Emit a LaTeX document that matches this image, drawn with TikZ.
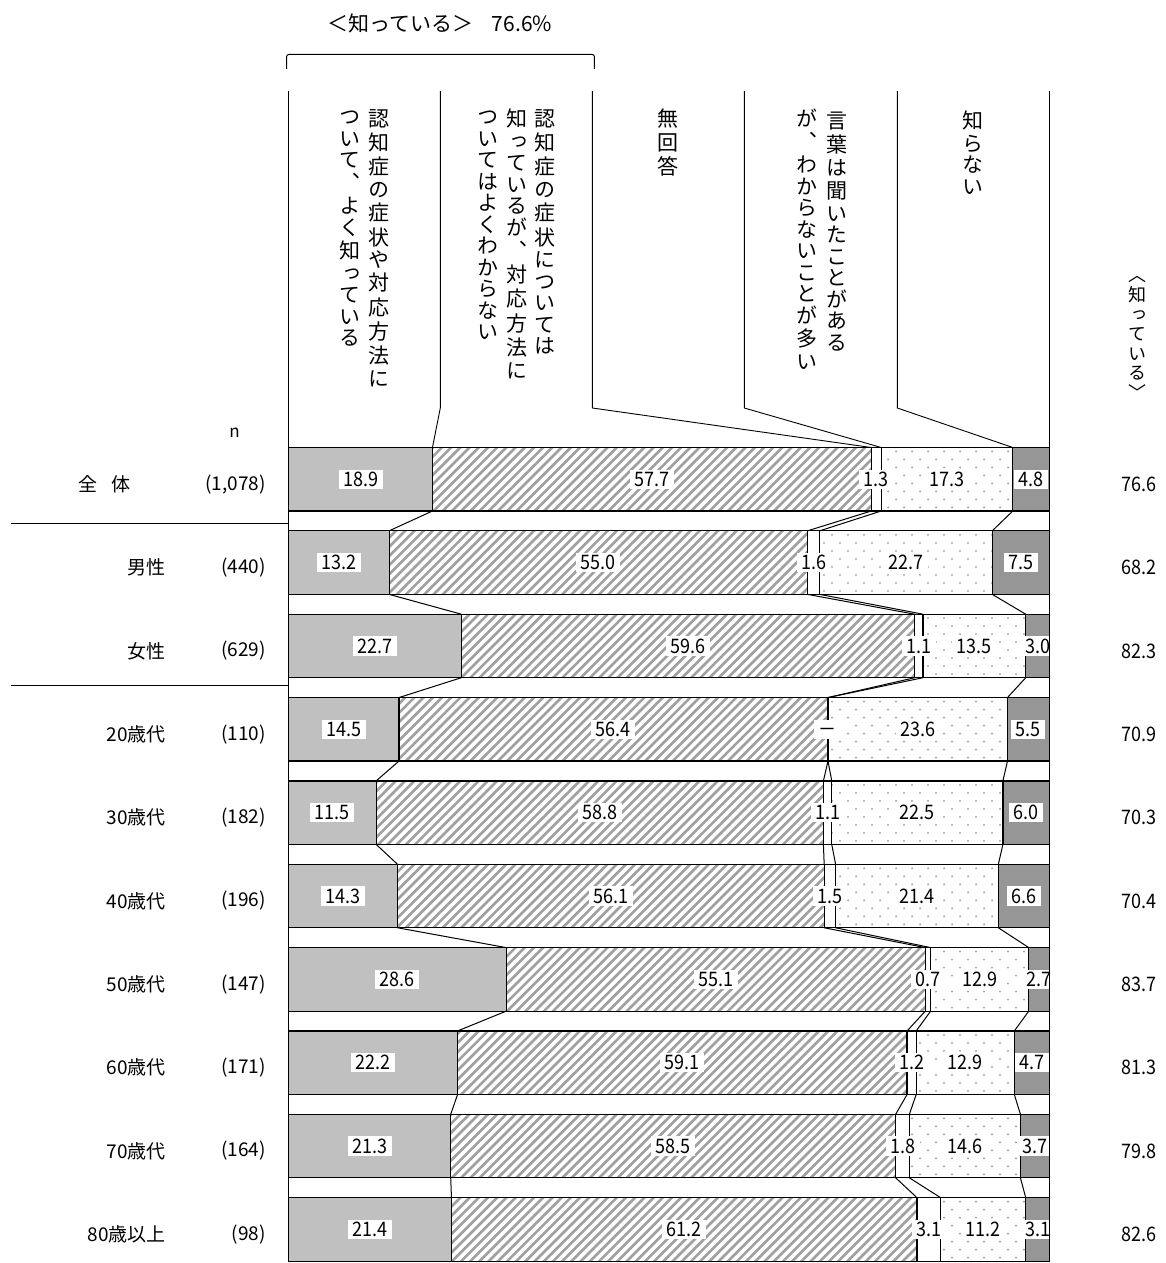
\documentclass[tikz,border=0pt]{standalone}
\usepackage{fontspec}
\setmainfont{Noto Sans CJK JP}
\newfontfamily\vjp[RawFeature={+vert}]{Noto Sans CJK JP}
\newfontfamily\numf[FakeStretch=0.9]{Noto Sans CJK JP}
\newlength\vkp \newlength\vhp \newlength\vcw
\makeatletter
\def\vloop#1{\ifx#1\relax\else\vcell{#1}\expandafter\vloop\fi}
\def\vcell#1{%
  \ifnum`#1>"303F \ifnum`#1<"3100 \dimen@=\vhp\else\dimen@=\vkp\fi\else\dimen@=\vkp\fi
  \vbox to \dimen@{\vss\hbox to \vcw{\hss\raisebox{0pt}[0.88\vcw][0.12\vcw]{#1}\hss}\vss}}
\newcommand\vtext[1]{\vbox{\offinterlineskip\vloop#1\relax}}
\makeatother
\definecolor{cA}{RGB}{192,192,192}
\definecolor{cE}{RGB}{150,150,150}
\definecolor{hatchc}{RGB}{160,160,160}
\definecolor{dotc}{RGB}{150,150,150}
\begin{document}
\begin{tikzpicture}[x=1pt,y=-1pt,
  vhead/.style={inner sep=0pt, anchor=north, font=\vjp\fontsize{21pt}{23pt}\selectfont\setlength\vcw{21pt}\setlength\vkp{24.3pt}\setlength\vhp{21.5pt}},
  vright/.style={inner sep=0pt, anchor=north, font=\vjp\fontsize{18pt}{20pt}\selectfont\setlength\vcw{18pt}\setlength\vkp{19.6pt}\setlength\vhp{19.6pt}},
  lab/.style={fill=white, inner xsep=4.5pt, inner ysep=2.5pt, text height=14.5pt, text depth=0pt, font=\numf\fontsize{20pt}{22pt}\selectfont},
  rowlab/.style={inner sep=0pt, anchor=east, font=\fontsize{19pt}{21pt}\selectfont},
  totlab/.style={inner sep=0pt, font=\numf\fontsize{20pt}{22pt}\selectfont},
  segline/.style={draw=black, line width=1.2pt},
  hatchline/.style={draw=hatchc, line width=2.6pt},
  conn/.style={draw=black, line width=1pt},
  hline/.style={draw=black, line width=0.9pt},
  frameline/.style={draw=black, line width=1.5pt},
  divline/.style={draw=black, line width=1.3pt}]
\useasboundingbox (0,0) rectangle (1166,1263);

% title and bracket
\node[inner sep=0pt, font=\fontsize{21pt}{23pt}\selectfont] (title) at (440,23) {＜知っている＞\hspace{18pt}76.6\%};
\coordinate (brA) at (286.7,69);
\coordinate (brB) at (286.7,54.5);
\coordinate (brC) at (594.3,54.5);
\coordinate (brD) at (594.3,69);
\draw[line width=1pt, rounded corners=2pt] (brA) -- (brB) -- (brC) -- (brD);

% bars
\foreach \va/\vb/\vc/\vd/\ve/\cl [count=\i from 0] in {
18.9/57.7/1.3/17.3/4.8/1.3,
13.2/55.0/1.6/22.7/7.5/1.6,
22.7/59.6/1.1/13.5/3.0/1.1,
14.5/56.4/0/23.6/5.5/－,
11.5/58.8/1.1/22.5/6.0/1.1,
14.3/56.1/1.5/21.4/6.6/1.5,
28.6/55.1/0.7/12.9/2.7/0.7,
22.2/59.1/1.2/12.9/4.7/1.2,
21.3/58.5/1.8/14.6/3.7/1.8,
21.4/61.2/3.1/11.2/3.1/3.1}{
  \pgfmathsetmacro\T{447.5+83.35*\i}
  \pgfmathsetmacro\B{\T+63.5}
  \pgfmathsetmacro\Y{\T+31.75}
  \pgfmathsetmacro\xb{288.7+7.606*\va}
  \pgfmathsetmacro\xc{288.7+7.606*(\va+\vb)}
  \pgfmathsetmacro\xd{288.7+7.606*(\va+\vb+\vc)}
  \pgfmathsetmacro\xe{288.7+7.606*(\va+\vb+\vc+\vd)}
  \coordinate (t\i-0) at (288.7,\T);  \coordinate (b\i-0) at (288.7,\B);
  \coordinate (t\i-1) at (\xb,\T);    \coordinate (b\i-1) at (\xb,\B);
  \coordinate (t\i-2) at (\xc,\T);    \coordinate (b\i-2) at (\xc,\B);
  \coordinate (t\i-3) at (\xd,\T);    \coordinate (b\i-3) at (\xd,\B);
  \coordinate (t\i-4) at (\xe,\T);    \coordinate (b\i-4) at (\xe,\B);
  \coordinate (t\i-5) at (1049.3,\T); \coordinate (b\i-5) at (1049.3,\B);
  \fill[cA] (t\i-0) rectangle (b\i-1);
  \begin{scope}
    \clip (t\i-1) rectangle (b\i-2);
    \foreach \u in {220,229.2,...,1000}{\draw[hatchline] (\u,\B+2) -- ++(68,-68);}
  \end{scope}
  \begin{scope}
    \clip (t\i-3) rectangle (b\i-4);
    \foreach \u in {800,816,...,1040}{
      \foreach \w in {4,20,36,52}{
        \fill[dotc] (\u,\T+\w) circle (1pt);
        \fill[dotc] (\u+8,\T+\w+8) circle (1pt);
      }}
  \end{scope}
  \fill[cE] (t\i-4) rectangle (b\i-5);
  \foreach \k [evaluate=\k as \kk using int(\k+1)] in {0,...,4}{
    \draw[segline] (t\i-\k) rectangle (b\i-\kk);
  }
  \node[lab] (l\i-1) at ({(288.7+\xb)/2},\Y) {\va};
  \node[lab] (l\i-2) at ({(\xb+\xc)/2},\Y) {\vb};
  \node[lab] (l\i-3) at ({(\xc+\xd)/2},\Y) {\cl};
  \node[lab] (l\i-4) at ({(\xd+\xe)/2},\Y) {\vd};
  \node[lab] (l\i-5) at ({(\xe+1049.3)/2},\Y) {\ve};
}

% connectors between rows
\foreach \i in {0,...,8}{
  \pgfmathtruncatemacro\j{\i+1}
  \foreach \k in {1,...,4}{\draw[conn] (b\i-\k) -- (t\j-\k);}
}

% header lines
\coordinate (ht0) at (288.7,91);   \coordinate (hb0) at (288.7,408);
\coordinate (ht1) at (440.3,91);   \coordinate (hb1) at (440.3,408);
\coordinate (ht2) at (592.3,91);   \coordinate (hb2) at (592.3,408);
\coordinate (ht3) at (744.3,91);   \coordinate (hb3) at (744.3,408);
\coordinate (ht4) at (897.3,91);   \coordinate (hb4) at (897.3,408);
\coordinate (ht5) at (1049.3,91);  \coordinate (hb5) at (1049.3,408);
\draw[hline] (ht0) -- (hb0);
\draw[hline] (ht5) -- (hb5);
\foreach \k in {1,...,4}{\draw[hline] (ht\k) -- (hb\k) -- (t0-\k);}
\draw[frameline] (hb0) -- (b9-0);
\draw[frameline] (hb5) -- (b9-5);

% header texts
\node[vhead] (h1a) at (379.2,106) {\vtext{認知症の症状や対応方法に}};
\node[vhead] (h1b) at (350,106) {\vtext{ついて、よく知っている}};
\node[vhead] (h2a) at (545,106) {\vtext{認知症の症状については}};
\node[vhead] (h2b) at (516.7,106) {\vtext{知っているが、対応方法に}};
\node[vhead] (h2c) at (488.3,106) {\vtext{ついてはよくわからない}};
\node[vhead] (h3a) at (668,106) {\vtext{無回答}};
\node[vhead] (h4a) at (836.7,108) {\vtext{言葉は聞いたことがある}};
\node[vhead] (h4b) at (806.7,108) {\vtext{が、わからないことが多い}};
\node[vhead] (h5a) at (973,108) {\vtext{知らない}};
\node[vright] (hr) at (1137,265) {\vtext{〈知っている〉}};

% n label
\node[inner sep=0pt, font=\fontsize{17pt}{19pt}\selectfont] (nlab) at (234.5,433) {n};

% row labels
\foreach \lab/\lx/\nn/\tot [count=\i from 0] in {
全\hspace{14pt}体/131/{(1,078)}/76.6,
男性/166/(440)/68.2,
女性/166/(629)/82.3,
20歳代/166/(110)/70.9,
30歳代/166/(182)/70.3,
40歳代/166/(196)/70.4,
50歳代/166/(147)/83.7,
60歳代/166/(171)/81.3,
70歳代/166/(164)/79.8,
80歳以上/166/(98)/82.6}{
  \pgfmathsetmacro\Y{447.5+83.35*\i+31.75+5}
  \node[rowlab] (r\i) at (\lx,\Y) {\lab};
  \node[rowlab] (n\i) at (266,\Y) {\nn};
  \node[totlab] (s\i) at (1139,\Y) {\tot};
}

% dividers
\coordinate (d1a) at (10.7,523.3); \coordinate (d1b) at (288.7,523.3);
\coordinate (d2a) at (10.7,685.7); \coordinate (d2b) at (288.7,685.7);
\draw[divline] (d1a) -- (d1b);
\draw[divline] (d2a) -- (d2b);
\end{tikzpicture}
\end{document}
